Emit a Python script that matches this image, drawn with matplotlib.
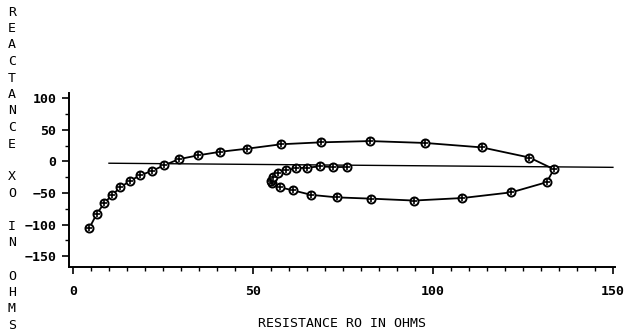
import matplotlib.pyplot as plt
from matplotlib.ticker import MultipleLocator

# impedance locus (resistance, reactance)
resistance = [4.5, 6.6, 8.7, 10.9, 13.2, 15.8, 18.7, 22.0, 25.4, 29.5,
              34.8, 40.8, 48.4, 57.9, 68.8, 82.5, 97.9, 113.6, 126.8, 133.6,
              131.6, 121.8, 108.2, 94.7, 82.9, 73.4, 66.2, 61.2, 57.5, 55.2,
              54.9, 55.6, 57.0, 59.2, 61.9, 65.0, 68.6, 72.3, 76.1]
reactance = [-106, -83, -66, -53, -41, -31, -22, -15, -6, 3.5,
             9.5, 15, 20, 27, 30, 32, 29, 22, 6, -12.5,
             -33, -49, -58, -62, -59, -57, -53, -46, -41, -35,
             -31, -25, -19, -14, -11, -10, -8, -9, -9]

# straight reference line
line_r = [10, 150]
line_x = [-3, -9.5]

x_ticks = [0, 50, 100, 150]
y_ticks = [100, 50, 0, -50, -100, -150]
x_title = 'RESISTANCE RO IN OHMS'
y_title = 'REACTANCE XO IN OHMS'

font = 'DejaVu Sans Mono'

fig = plt.figure(figsize=(6.42, 3.34), dpi=100)
ax = fig.add_axes([0.1075, 0.2006, 0.850, 0.521])

ax.plot(line_r, line_x, color='black', lw=1.0)
ax.plot(resistance, reactance, color='black', lw=1.3)
ax.plot(resistance, reactance, ls='none', marker='o', ms=5.8,
        mfc='white', mec='black', mew=1.4)
ax.plot(resistance, reactance, ls='none', marker='+', ms=5,
        mec='black', mew=1.2)

ax.set_xlim(-1.1, 150.5)
ax.set_ylim(-167, 108)
for s in ['top', 'right']:
    ax.spines[s].set_visible(False)
for s in ['left', 'bottom']:
    ax.spines[s].set_linewidth(1.4)

ax.set_xticks(x_ticks)
ax.set_yticks(y_ticks)
ax.xaxis.set_minor_locator(MultipleLocator(5))
ax.yaxis.set_minor_locator(MultipleLocator(25))
ax.tick_params(which='major', length=5, width=1.2, pad=8)
ax.tick_params(which='minor', length=3, width=1.0)
ax.tick_params(axis='y', which='major', pad=4)
for lab in ax.get_xticklabels() + ax.get_yticklabels():
    lab.set_fontfamily(font)
    lab.set_fontsize(9.5)
    lab.set_fontweight('bold')

ax.set_xlabel(x_title, fontfamily=font, fontsize=9.5, labelpad=14)

# vertical stacked letters of the y title
for i, ch in enumerate(y_title):
    fig.text(12 / 642, 1 - (12 + 16.5 * i) / 334, ch, fontfamily=font,
             fontsize=9.5, ha='center', va='center')

fig.savefig('out.png', dpi=100)
